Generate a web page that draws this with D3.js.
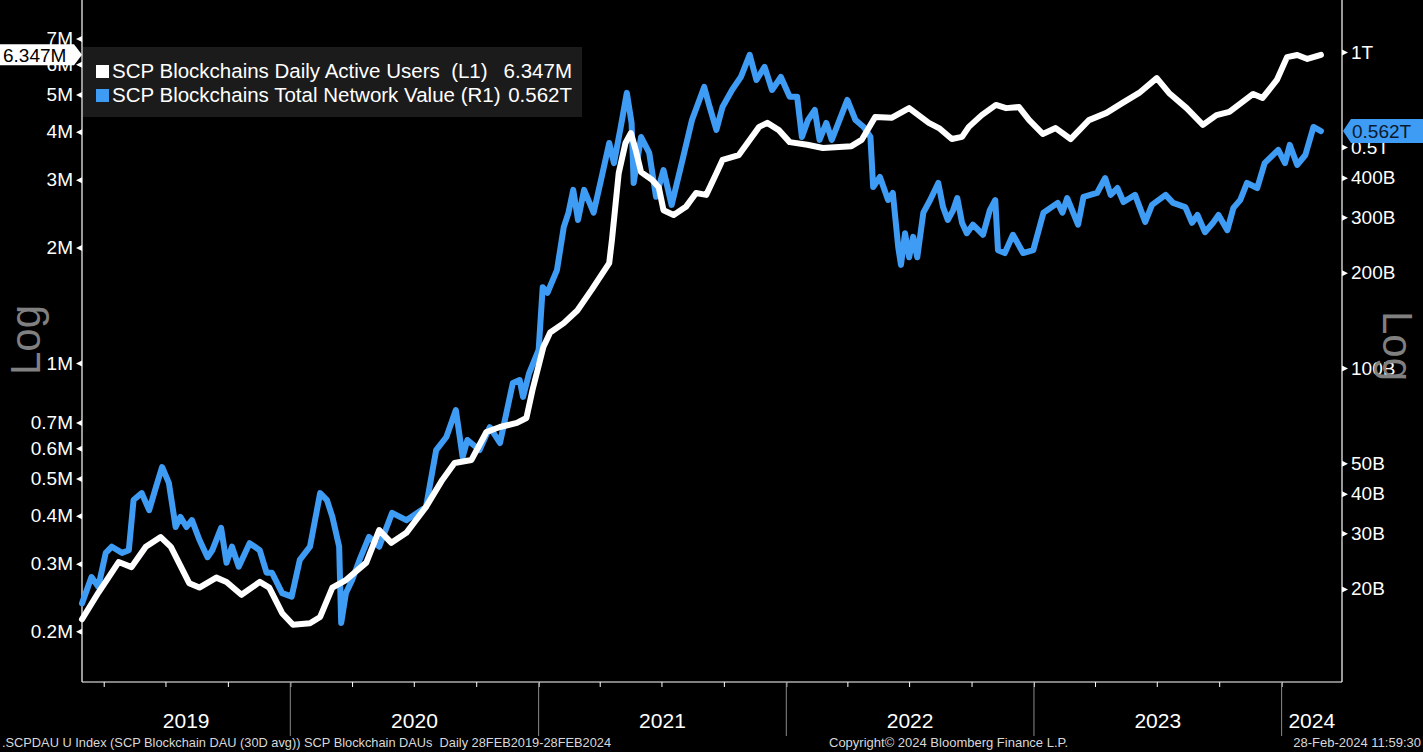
<!DOCTYPE html>
<html>
<head>
<meta charset="utf-8">
<script src="https://cdn.jsdelivr.net/npm/d3@7"></script>
<style>
html, body { margin: 0; padding: 0; background: #000; overflow: hidden; }
svg { display: block; font-family: "Liberation Sans", Arial, sans-serif; }
</style>
</head>
<body>
<svg id="chart" width="1423" height="752"></svg>
<script>
// Daily active users, 30D avg (millions)
const dauDates = ["2019-02-28","2019-03-24","2019-04-23","2019-05-12","2019-06-02","2019-06-24","2019-07-09","2019-08-05","2019-08-20","2019-09-14",
  "2019-09-29","2019-10-21","2019-11-17","2019-12-01","2019-12-20","2020-01-05","2020-01-30","2020-02-14","2020-03-03","2020-03-23",
  "2020-04-22","2020-05-11","2020-05-29","2020-06-20","2020-07-19","2020-08-12","2020-08-30","2020-09-24","2020-10-16","2020-11-05",
  "2020-11-30","2020-12-14","2020-12-23","2021-01-08","2021-01-18","2021-02-07","2021-02-27","2021-03-20","2021-04-15","2021-04-19",
  "2021-04-29","2021-05-09","2021-05-17","2021-05-24","2021-06-01","2021-06-17","2021-06-27","2021-07-04","2021-07-19","2021-08-06",
  "2021-08-21","2021-09-05","2021-09-20","2021-09-29","2021-10-23","2021-11-08","2021-11-22","2021-12-04","2021-12-21","2022-01-06",
  "2022-02-01","2022-02-24","2022-04-07","2022-04-22","2022-05-12","2022-06-05","2022-07-01","2022-07-30","2022-08-14","2022-09-02",
  "2022-09-17","2022-09-27","2022-10-16","2022-11-06","2022-11-21","2022-12-10","2022-12-25","2023-01-14","2023-02-02","2023-02-24",
  "2023-03-23","2023-04-18","2023-05-11","2023-06-05","2023-07-01","2023-07-19","2023-08-14","2023-09-07","2023-09-27","2023-10-16",
  "2023-11-20","2023-12-04","2023-12-25","2024-01-09","2024-01-24","2024-02-08","2024-02-28"];
const dauValues = [0.215,0.252,0.303,0.294,0.332,0.352,0.332,0.267,0.260,0.276,
  0.269,0.249,0.269,0.260,0.223,0.208,0.210,0.218,0.260,0.272,
  0.302,0.367,0.340,0.361,0.422,0.496,0.549,0.559,0.661,0.681,
  0.698,0.719,0.851,1.10,1.20,1.27,1.37,1.55,1.82,2.09,
  3.12,3.74,3.97,3.59,3.14,3.00,2.87,2.50,2.43,2.55,
  2.77,2.74,3.12,3.38,3.48,3.81,4.12,4.22,4.04,3.76,
  3.70,3.63,3.67,3.81,4.37,4.35,4.61,4.22,4.09,3.83,
  3.88,4.12,4.42,4.70,4.61,4.64,4.29,3.95,4.09,3.83,
  4.29,4.48,4.75,5.05,5.52,5.05,4.61,4.17,4.42,4.51,
  5.02,4.90,5.46,6.26,6.34,6.19,6.347];

// Total network value (billions)
const tnvDates = ["2019-02-28","2019-03-14","2019-03-24","2019-04-04","2019-04-13","2019-04-28","2019-05-08","2019-05-15","2019-05-27","2019-06-07",
  "2019-06-17","2019-06-26","2019-07-06","2019-07-16","2019-07-23","2019-08-01","2019-08-09","2019-08-20","2019-09-01","2019-09-08",
  "2019-09-21","2019-09-29","2019-10-07","2019-10-17","2019-11-02","2019-11-17","2019-11-27","2019-12-05","2019-12-20","2020-01-03",
  "2020-01-15","2020-01-30","2020-02-14","2020-02-24","2020-03-03","2020-03-13","2020-03-16","2020-03-23","2020-04-01","2020-04-12",
  "2020-04-26","2020-05-11","2020-05-30","2020-06-20","2020-07-19","2020-08-03","2020-08-18","2020-09-01","2020-09-11","2020-09-18",
  "2020-10-06","2020-10-21","2020-11-05","2020-11-24","2020-12-04","2020-12-09","2020-12-18","2021-01-01","2021-01-07","2021-01-14",
  "2021-01-28","2021-02-07","2021-02-14","2021-02-21","2021-02-28","2021-03-09","2021-03-23","2021-04-03","2021-04-15","2021-04-22",
  "2021-05-02","2021-05-11","2021-05-18","2021-05-21","2021-06-01","2021-06-13","2021-06-23","2021-07-04","2021-07-16","2021-08-01",
  "2021-08-15","2021-09-02","2021-09-10","2021-09-20","2021-09-29","2021-10-13","2021-10-26","2021-11-08","2021-11-18","2021-11-30",
  "2021-12-11","2021-12-24","2022-01-06","2022-01-17","2022-01-24","2022-02-02","2022-02-12","2022-02-19","2022-03-01","2022-03-09",
  "2022-04-01","2022-04-13","2022-04-25","2022-05-05","2022-05-09",
  "2022-05-19","2022-05-31","2022-06-07","2022-06-15","2022-06-19","2022-06-25","2022-07-01","2022-07-07","2022-07-13","2022-07-22",
  "2022-08-01","2022-08-13","2022-08-20","2022-08-27","2022-09-04","2022-09-10","2022-09-17","2022-09-24","2022-10-03","2022-10-18",
  "2022-10-28","2022-11-05","2022-11-09","2022-11-19","2022-12-01","2022-12-16","2022-12-31","2023-01-15","2023-02-05","2023-02-12",
  "2023-02-19","2023-03-07","2023-03-15","2023-04-04","2023-04-16","2023-04-24","2023-05-04","2023-05-13","2023-05-30","2023-06-14",
  "2023-06-24","2023-07-14","2023-07-25","2023-08-12","2023-08-22","2023-08-30","2023-09-10","2023-09-22","2023-09-30","2023-10-13",
  "2023-10-22","2023-11-01",
  "2023-11-11","2023-11-26","2023-12-07","2023-12-27","2024-01-06","2024-01-13","2024-01-24","2024-02-05","2024-02-17","2024-02-28"];
const tnvValues = [18.0,21.8,20.3,26.0,27.2,26.0,26.5,38.2,40.2,35.5,
  42.0,48.6,43.3,31.4,33.8,31.4,33.0,28.6,25.2,26.5,
  31.2,24.2,27.2,23.5,27.9,26.5,22.5,22.5,19.4,18.9,
  24.7,27.2,40.2,38.2,33.8,27.2,15.6,19.4,21.3,24.7,
  29.2,27.2,34.8,33.0,36.3,55.0,60.5,73.6,52.3,59.2,
  55.0,65.0,57.9,89.7,91.6,81.0,96.4,114,180,173,
  204,279,310,366,294,366,310,394,515,445,
  579,742,596,385,538,479,348,423,328,455,
  609,775,670,567,670,758,833,979,815,897,
  758,833,721,721,538,609,655,527,596,527,
  705,609,579,538,374,
  402,340,358,241,212,267,224,260,224,310,
  340,385,323,294,316,345,288,267,284,264,
  316,340,236,231,264,231,236,310,333,310,
  345,284,348,358,399,353,371,335,353,290,
  328,353,333,323,288,305,269,288,305,273,
  321,340,
  385,371,445,490,445,508,439,472,579,562];

const leftTicks = [0.2, 0.3, 0.4, 0.5, 0.6, 0.7, 1, 2, 3, 4, 5, 6, 7];
const leftTickLabels = ["0.2M","0.3M","0.4M","0.5M","0.6M","0.7M","1M","2M","3M","4M","5M","6M","7M"];
const rightTicks = [20, 30, 40, 50, 100, 200, 300, 400, 500, 1000];
const rightTickLabels = ["20B","30B","40B","50B","100B","200B","300B","400B","0.5T","1T"];
const years = [2019, 2020, 2021, 2022, 2023, 2024];

const legendNames = ["SCP Blockchains Daily Active Users  (L1)", "SCP Blockchains Total Network Value (R1)"];
const legendValues = ["6.347M", "0.562T"];
const footerLeft = ".SCPDAU U Index (SCP Blockchain DAU (30D avg)) SCP Blockchain DAUs  Daily 28FEB2019-28FEB2024";
const footerMid = "Copyright\u00a9 2024 Bloomberg Finance L.P.";
const footerRight = "28-Feb-2024 11:59:30";

const WHITE = "#ffffff";
const BLUE = "#3f9cf4";

const parse = d3.timeParse("%Y-%m-%d");
const dau = dauDates.map((d, i) => ({ date: parse(d), v: dauValues[i] }));
const tnv = tnvDates.map((d, i) => ({ date: parse(d), v: tnvValues[i] }));

const plotLeft = 82, plotRight = 1342, plotTop = 0, plotBottom = 682;

const x = d3.scaleTime()
  .domain([parse("2019-02-28"), parse("2024-03-30")])
  .range([plotLeft, plotRight]);
const yL = d3.scaleLog().domain([0.1476, 8.817]).range([plotBottom, plotTop]);
const yR = d3.scaleLog().domain([10.15, 1460]).range([plotBottom, plotTop]);

const svg = d3.select("#chart");
svg.append("rect").attr("width", 1423).attr("height", 752).attr("fill", "#000");

// frame lines
svg.append("line").attr("x1", plotLeft).attr("x2", plotLeft).attr("y1", plotTop).attr("y2", plotBottom)
  .attr("stroke", "#fff").attr("stroke-width", 1.2);
svg.append("line").attr("x1", plotRight).attr("x2", plotRight).attr("y1", plotTop).attr("y2", plotBottom)
  .attr("stroke", "#fff").attr("stroke-width", 1.2);
svg.append("line").attr("x1", plotLeft).attr("x2", plotRight).attr("y1", plotBottom).attr("y2", plotBottom)
  .attr("stroke", "#fff").attr("stroke-width", 1.2);

// left axis
const gL = svg.append("g").attr("transform", `translate(${plotLeft},0)`)
  .call(d3.axisLeft(yL).tickValues(leftTicks)
    .tickFormat((d, i) => leftTickLabels[i]).tickSize(0).tickPadding(9));
gL.select(".domain").remove();
gL.selectAll("text").attr("fill", "#fff").attr("font-size", 19)
  .attr("font-family", "Liberation Sans, Arial, sans-serif");
gL.selectAll(".tick").append("path").attr("d", "M0,-3L0,3L-6,0Z").attr("fill", "#fff");

// right axis
const gR = svg.append("g").attr("transform", `translate(${plotRight},0)`)
  .call(d3.axisRight(yR).tickValues(rightTicks)
    .tickFormat((d, i) => rightTickLabels[i]).tickSize(0).tickPadding(9));
gR.select(".domain").remove();
gR.selectAll("text").attr("fill", "#fff").attr("font-size", 19)
  .attr("font-family", "Liberation Sans, Arial, sans-serif");
gR.selectAll(".tick").append("path").attr("d", "M0,-3L0,3L6,0Z").attr("fill", "#fff");

// bottom axis: quarter ticks
const gB = svg.append("g").attr("transform", `translate(0,${plotBottom})`)
  .call(d3.axisBottom(x).ticks(d3.timeMonth.every(3)).tickSize(5).tickFormat(""));
gB.select(".domain").remove();
gB.selectAll("line").attr("stroke", "#fff");

// year separators and labels
years.forEach(yr => {
  const start = new Date(yr, 0, 1), end = new Date(yr + 1, 0, 1);
  if (x(start) > plotLeft) {
    svg.append("line").attr("x1", x(start)).attr("x2", x(start))
      .attr("y1", plotBottom).attr("y2", 736).attr("stroke", "#8a8a8a").attr("stroke-width", 1);
  }
  const cx = (Math.max(plotLeft, x(start)) + Math.min(plotRight, x(end))) / 2;
  svg.append("text").attr("x", cx).attr("y", 728).attr("text-anchor", "middle")
    .attr("fill", "#fff").attr("font-size", 21).text(yr);
});

// "Log" side labels
svg.append("text").attr("transform", "translate(40,340) rotate(-90)")
  .attr("text-anchor", "middle").attr("fill", "#808080").attr("font-size", 42).text("Log");
svg.append("text").attr("transform", "translate(1383,346) rotate(90)")
  .attr("text-anchor", "middle").attr("fill", "#808080").attr("font-size", 42).text("Log");

// series
const lineL = d3.line().x(d => x(d.date)).y(d => yL(d.v));
const lineR = d3.line().x(d => x(d.date)).y(d => yR(d.v));

svg.append("path").datum(tnv).attr("d", lineR).attr("fill", "none")
  .attr("stroke", BLUE).attr("stroke-width", 6).attr("stroke-linejoin", "round").attr("stroke-linecap", "round");
svg.append("path").datum(dau).attr("d", lineL).attr("fill", "none")
  .attr("stroke", WHITE).attr("stroke-width", 6).attr("stroke-linejoin", "round").attr("stroke-linecap", "round");

// legend
svg.append("rect").attr("x", 83).attr("y", 47).attr("width", 499).attr("height", 70).attr("fill", "#1b1b1b");
[WHITE, BLUE].forEach((c, i) => {
  const by = 78 + i * 24;
  svg.append("rect").attr("x", 96).attr("y", by - 13).attr("width", 13).attr("height", 13).attr("fill", c);
  svg.append("text").attr("x", 112).attr("y", by).attr("fill", "#fff").attr("font-size", 20.5)
    .style("white-space", "pre").text(legendNames[i]);
  svg.append("text").attr("x", 572).attr("y", by).attr("text-anchor", "end").attr("fill", "#fff")
    .attr("font-size", 20.5).text(legendValues[i]);
});

// last value tags
const lastL = dau[dau.length - 1], lastR = tnv[tnv.length - 1];
const tyL = yL(lastL.v), tyR = yR(lastR.v);
svg.append("path").attr("d", `M0,${tyL - 10.5}L74,${tyL - 10.5}L${plotLeft},${tyL}L74,${tyL + 10.5}L0,${tyL + 10.5}Z`).attr("fill", "#fff");
svg.append("text").attr("x", 3).attr("y", tyL + 7).attr("fill", "#000").attr("font-size", 19).text(legendValues[0]);
svg.append("path").attr("d", `M${plotRight + 1},${tyR}L${plotRight + 9},${tyR - 12}L1423,${tyR - 12}L1423,${tyR + 12}L${plotRight + 9},${tyR + 12}Z`).attr("fill", BLUE);
svg.append("text").attr("x", plotRight + 10).attr("y", tyR + 7).attr("fill", "#0b1a2e").attr("font-size", 19).text(legendValues[1]);

// footer
svg.append("text").attr("x", 2).attr("y", 747).attr("fill", "#d8d8d8").attr("font-size", 12.8)
  .style("white-space", "pre").text(footerLeft);
svg.append("text").attr("x", 829).attr("y", 747).attr("fill", "#d8d8d8").attr("font-size", 13).text(footerMid);
svg.append("text").attr("x", 1421).attr("y", 747).attr("text-anchor", "end").attr("fill", "#d8d8d8").attr("font-size", 13).text(footerRight);
</script>
</body>
</html>
